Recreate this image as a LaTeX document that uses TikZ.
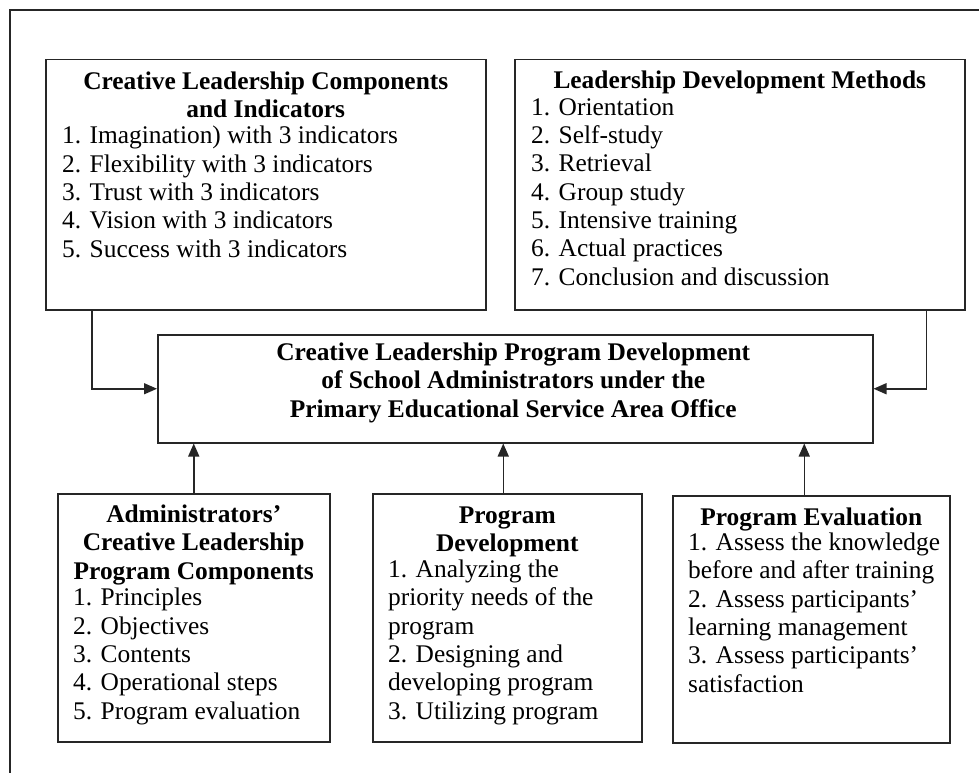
\documentclass[tikz,border=0pt]{standalone}
\usepackage{fontspec}
\setmainfont{Liberation Serif}
\usetikzlibrary{positioning, calc, arrows.meta}

\tikzset{
  panel/.style={draw=black!85, line width=1.5pt, inner sep=0, anchor=north west},
  head/.style={font=\fontsize{25.4}{28.3}\selectfont\bfseries, align=center, inner sep=0, anchor=base},
  items/.style={font=\fontsize{25.4}{28.3}\selectfont, align=left, inner sep=0, anchor=base west},
  arr/.style={line width=1.5pt, draw=black!85, -{Triangle[length=13pt,width=11pt]}}
}

\begin{document}
\begin{tikzpicture}[x=1pt, y=-1pt]
\useasboundingbox (0,0) rectangle (979,773);
\clip (0,0) rectangle (979,773);

% outer frame
\draw[line width=2pt, black!85] (10,10.5) rectangle (1000,800);

% top row (text nodes sit on the baseline of their last line)
\node[panel, minimum width=440pt, minimum height=250pt] (clc) at (45,59) {};
\node[head] (clc-head) at ($(clc.north)+(0,58.5)$) {Creative Leadership Components\\and Indicators};
\node[items] (clc-list) at ($(clc.north west)+(17,198)$) {1. Imagination) with 3 indicators\\
  2. Flexibility with 3 indicators\\
  3. Trust with 3 indicators\\
  4. Vision with 3 indicators\\
  5. Success with 3 indicators};

\node[panel, minimum width=450pt, minimum height=250pt] (ldm) at (514,59) {};
\node[head] (ldm-head) at ($(ldm.north)+(0,30)$) {Leadership Development Methods};
\node[items] (ldm-list) at ($(ldm.north west)+(17,226)$) {1. Orientation\\
  2. Self-study\\
  3. Retrieval\\
  4. Group study\\
  5. Intensive training\\
  6. Actual practices\\
  7. Conclusion and discussion};

% centre
\node[panel, minimum width=715pt, minimum height=108pt] (prog) at (157,334) {};
\node[head] (prog-head) at ($(prog.north)+(-2,83)$) {Creative Leadership Program Development\\
  of School Administrators under the\\
  Primary Educational Service Area Office};

% bottom row
\node[panel, minimum width=272pt, minimum height=248pt] (adm) at (57,493) {};
\node[head] (adm-head) at ($(adm.north)+(0,86)$) {Administrators’\\Creative Leadership\\Program Components};
\node[items] (adm-list) at ($(adm.north west)+(16,226)$) {1. Principles\\
  2. Objectives\\
  3. Contents\\
  4. Operational steps\\
  5. Program evaluation};

\node[panel, minimum width=269pt, minimum height=248pt] (dev) at (372,493) {};
\node[head] (dev-head) at ($(dev.north)+(0,58.5)$) {Program\\Development};
\node[items] (dev-list) at ($(dev.north west)+(16,226)$) {1. Analyzing the\\
  priority needs of the\\
  program\\
  2. Designing and\\
  developing program\\
  3. Utilizing program};

\node[panel, minimum width=277pt, minimum height=247pt] (eva) at (672,495) {};
\node[head] (eva-head) at ($(eva.north)+(0,30)$) {Program Evaluation};
\node[items] (eva-list) at ($(eva.north west)+(16,197)$) {1. Assess the knowledge\\
  before and after training\\
  2. Assess participants’\\
  learning management\\
  3. Assess participants’\\
  satisfaction};

% arrows into the centre box
\coordinate (dev-top) at ($(dev.north)+(-4,0)$);
\coordinate (eva-top) at ($(eva.north)+(-7,0)$);
\draw[arr] ($(clc.south west)+(47,0)$) |- (prog.west);
\draw[arr] ($(ldm.south east)+(-39,0)$) |- (prog.east);
\draw[arr] (adm.north) -- (adm.north |- prog.south);
\draw[arr] (dev-top) -- (dev-top |- prog.south);
\draw[arr] (eva-top) -- (eva-top |- prog.south);
\end{tikzpicture}
\end{document}
